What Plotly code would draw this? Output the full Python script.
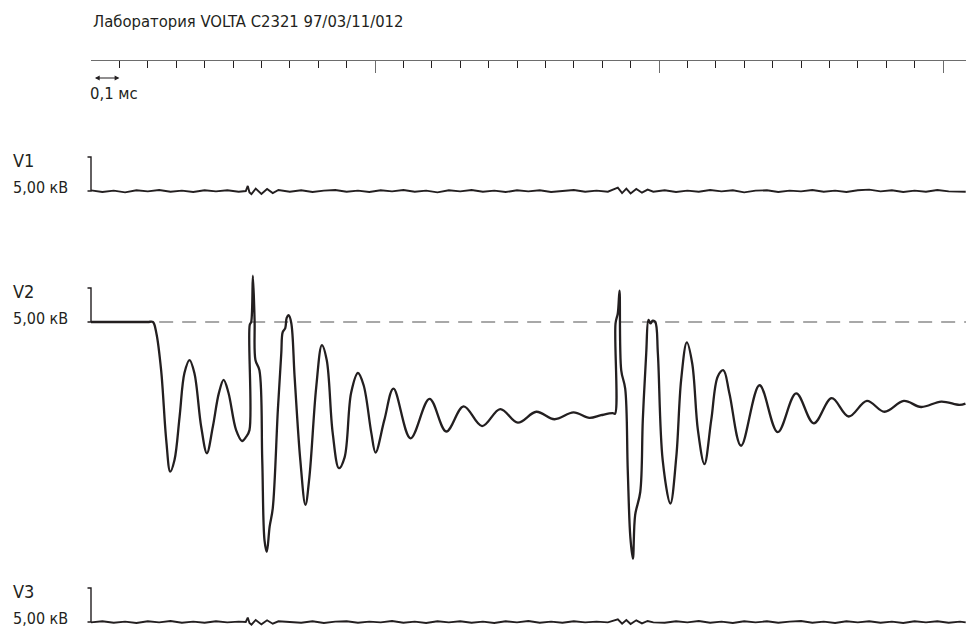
"""Oscillogram of V1/V2/V3 phase voltages (VOLTA C2321 record)."""

import plotly.graph_objects as go

TITLE = "Лаборатория VOLTA C2321 97/03/11/012"
CHANNELS = ["V1", "V2", "V3"]
SCALE_LABEL = "5,00 кВ"
TIME_SCALE_LABEL = "0,1 мс"

# V2 waveform: time, ms / voltage relative to pre-fault level, kV
V2_T = [
    0.000, 0.100, 0.200, 0.218, 0.230, 0.247, 0.265, 0.279, 0.294, 0.312, 0.329, 0.347,
    0.364, 0.388, 0.408, 0.429, 0.450, 0.467, 0.484, 0.511, 0.532, 0.546,
    0.558, 0.559, 0.564, 0.570, 0.576, 0.579, 0.593, 0.603, 0.611, 0.619,
    0.629, 0.640, 0.658, 0.670, 0.675, 0.684, 0.689, 0.696, 0.705, 0.717,
    0.737, 0.755, 0.769, 0.793, 0.813, 0.830, 0.851, 0.873, 0.893, 0.916,
    0.940, 0.960, 0.987, 1.002, 1.033, 1.065, 1.125, 1.192, 1.251, 1.312,
    1.377, 1.441, 1.503, 1.568, 1.632, 1.699, 1.755, 1.796, 1.837, 1.845,
    1.847, 1.855, 1.861, 1.867, 1.881, 1.890, 1.899, 1.908, 1.916, 1.934,
    1.943, 1.955, 1.963, 1.970, 1.978, 1.987, 1.996, 2.013, 2.040, 2.061,
    2.078, 2.098, 2.117, 2.137, 2.160, 2.184, 2.207, 2.227, 2.248, 2.289,
    2.354, 2.418, 2.483, 2.545, 2.608, 2.668, 2.732, 2.794, 2.862, 2.923,
    2.994, 3.058, 3.079,
]
V2_KV = [
    0.0, 0.0, 0.0, 0.0, -1.6, -7.1, -17.4, -22.0, -20.3, -13.9, -7.5, -5.6,
    -7.5, -15.4, -19.3, -15.4, -10.5, -8.5, -10.4, -15.9, -17.5, -16.9,
    -15.9, -0.4, 0.0, 6.8, 0.3, -5.6, -7.1, -20.3, -32.1, -33.8,
    -30.1, -27.4, -12.9, -4.6, -1.5, -0.9, 0.6, 1.0, -0.1, -8.1,
    -20.3, -26.9, -22.8, -9.6, -3.4, -5.6, -16.3, -21.5, -19.9, -10.4,
    -7.5, -9.3, -16.3, -19.2, -14.4, -9.8, -17.1, -11.3, -16.1, -12.4,
    -15.3, -12.8, -14.8, -13.2, -14.3, -13.3, -14.1, -13.7, -13.4, -13.5,
    -0.2, 1.3, 4.6, -7.1, -9.8, -21.8, -31.6, -34.8, -28.4, -25.0,
    -14.4, -4.6, 0.3, -0.2, 0.2, 0.0, -4.6, -20.3, -26.7, -19.8,
    -8.5, -3.0, -6.1, -15.9, -20.9, -14.4, -8.0, -7.1, -10.5, -18.2,
    -9.3, -16.2, -10.5, -14.9, -11.2, -13.9, -11.6, -13.2, -11.6, -12.5,
    -11.7, -12.2, -12.0,
]

# V1 / V3: background noise with two small disturbances, shared time base, ms
NOISE_T = [
    0.00, 0.04, 0.08, 0.12, 0.16, 0.20, 0.24, 0.28, 0.32, 0.36, 0.40, 0.44, 0.48, 0.52,
    0.545, 0.552, 0.558, 0.565, 0.58, 0.60, 0.62, 0.64, 0.66,
    0.70, 0.74, 0.78, 0.82, 0.86, 0.90, 0.94, 0.98, 1.02, 1.06, 1.10, 1.14, 1.18, 1.22,
    1.26, 1.30, 1.34, 1.38, 1.42, 1.46, 1.50, 1.54, 1.58, 1.62, 1.66, 1.70, 1.74, 1.78, 1.82,
    1.855, 1.87, 1.885, 1.90, 1.92, 1.94, 1.96, 1.98,
    2.02, 2.06, 2.10, 2.14, 2.18, 2.22, 2.26, 2.30, 2.34, 2.38, 2.42, 2.46, 2.50, 2.54,
    2.58, 2.62, 2.66, 2.70, 2.74, 2.78, 2.82, 2.86, 2.90, 2.94, 2.98, 3.02, 3.06, 3.08,
]
V1_KV = [
    0.10, -0.15, 0.05, -0.20, 0.10, -0.05, 0.15, -0.10, 0.05, -0.15, 0.10, -0.05, 0.10, -0.10,
    0.00, 0.75, -0.20, -0.45, 0.35, -0.45, 0.30, -0.30, 0.15,
    -0.10, 0.10, -0.15, 0.05, 0.15, -0.10, 0.05, -0.15, 0.10, -0.05, 0.15, -0.10, 0.05, -0.20,
    0.10, -0.05, 0.15, -0.10, 0.05, -0.15, 0.10, -0.05, 0.10, -0.15, 0.05, 0.15, -0.10, 0.05, -0.10,
    0.50, -0.30, 0.35, -0.35, 0.30, -0.25, 0.20, -0.10,
    0.10, -0.15, 0.05, -0.10, 0.15, -0.05, 0.10, -0.20, 0.05, 0.10, -0.15, 0.05, -0.05, 0.15,
    -0.10, 0.05, -0.15, 0.10, 0.20, -0.05, 0.10, -0.15, 0.05, -0.10, 0.15, -0.05, -0.15, -0.10,
]
V3_KV = [
    -0.05, 0.10, -0.10, 0.05, -0.15, 0.10, -0.05, 0.15, -0.10, 0.05, -0.10, 0.10, -0.05, 0.05,
    0.00, 0.65, -0.15, -0.40, 0.30, -0.35, 0.25, -0.25, 0.10,
    0.05, -0.10, 0.10, -0.15, 0.05, 0.10, -0.10, 0.05, -0.05, 0.15, -0.10, 0.05, -0.15, 0.10,
    -0.05, 0.10, -0.10, 0.05, -0.15, 0.10, -0.05, 0.15, -0.10, 0.05, -0.10, 0.10, -0.05, 0.05, -0.05,
    0.40, -0.25, 0.30, -0.30, 0.25, -0.20, 0.15, -0.05,
    -0.10, 0.10, -0.05, 0.15, -0.10, 0.05, -0.15, 0.10, -0.05, 0.10, -0.10, 0.05, 0.15, -0.10,
    0.05, -0.15, 0.10, -0.05, 0.10, -0.10, 0.05, -0.15, 0.10, -0.05, 0.10, -0.10, 0.05, -0.05,
]

SCALE_KV = 5.0      # height of the scale bracket
TIME_STEP = 0.1     # ms, minor ruler division
REF_START = 0.24    # ms, where the dashed pre-fault level starts

# layout geometry (pixels)
W, H = 966, 628
LEFT = 91
PX_PER_MS = 284.0
PX_PER_KV = 6.8
RULER_Y = 60
# (top, bottom, zero level) of each channel strip
PANELS = [(150, 232, 191), (268, 572, 322), (578, 628, 622)]

INK = "#231f20"
FONT = "Liberation Sans Narrow, DejaVu Sans Condensed, Arial Narrow, sans-serif"


def frac(py):
    return 1 - py / H


def xfrac(px):
    return (px - LEFT) / (W - LEFT)


x_max = (W - LEFT) / PX_PER_MS

fig = go.Figure()
series = [(NOISE_T, V1_KV, 1.9), (V2_T, V2_KV, 2.3), (NOISE_T, V3_KV, 1.9)]
for i, (t, v, width) in enumerate(series):
    fig.add_trace(
        go.Scatter(
            x=t,
            y=v,
            mode="lines",
            line={"color": INK, "width": width,
                  "shape": "spline" if i == 1 else "linear", "smoothing": 1.0},
            yaxis="y" if i == 0 else f"y{i + 1}",
            hoverinfo="skip",
            showlegend=False,
        )
    )

layout_axes = {}
for i, (top, bottom, zero) in enumerate(PANELS):
    name = "yaxis" if i == 0 else f"yaxis{i + 1}"
    layout_axes[name] = {
        "domain": [frac(bottom), frac(top)],
        "range": [(zero - bottom) / PX_PER_KV, (zero - top) / PX_PER_KV],
        "visible": False,
        "fixedrange": True,
    }

# pre-fault level of V2
fig.add_shape(
    type="line", xref="x", yref="y2", x0=REF_START, x1=x_max, y0=0, y1=0,
    line={"color": "#8c8c8c", "width": 1.6, "dash": "14px,9px"}, layer="below",
)

# scale brackets and channel labels
for name, (top, bottom, zero) in zip(CHANNELS, PANELS):
    y0 = frac(zero)
    y1 = frac(zero - SCALE_KV * PX_PER_KV)
    x_left = xfrac(LEFT - 3.5)
    fig.add_shape(
        type="path", xref="paper", yref="paper",
        path=f"M {x_left} {y1} L 0 {y1} L 0 {y0} L {x_left} {y0}",
        line={"color": INK, "width": 1.4},
    )
    fig.add_annotation(
        x=xfrac(11), y=y1 - 0.005, xref="paper", yref="paper", text=name,
        showarrow=False, xanchor="left", yanchor="middle",
        font={"size": 18, "color": INK, "family": FONT},
    )
    fig.add_annotation(
        x=xfrac(11), y=y0 + 0.006, xref="paper", yref="paper", text=SCALE_LABEL,
        showarrow=False, xanchor="left", yanchor="middle",
        font={"size": 16, "color": INK, "family": FONT},
    )

fig.add_annotation(
    x=0, y=frac(21), xref="paper", yref="paper", text=TITLE,
    showarrow=False, xanchor="left", yanchor="middle",
    font={"size": 16.5, "color": INK, "family": FONT},
)

# 0.1 ms arrow under the ruler
fig.add_annotation(
    x=TIME_STEP, y=frac(78), xref="x", yref="paper", text="",
    showarrow=True, axref="pixel", ayref="pixel", ax=-26, ay=0,
    arrowhead=2, arrowside="end+start", arrowsize=0.8, arrowwidth=1.2,
    arrowcolor=INK, standoff=0, startstandoff=0,
)
fig.add_annotation(
    x=xfrac(LEFT - 3), y=frac(93), xref="paper", yref="paper", text=TIME_SCALE_LABEL,
    showarrow=False, xanchor="left", yanchor="middle",
    font={"size": 16.5, "color": INK, "family": FONT},
)

fig.update_layout(
    width=W,
    height=H,
    margin={"l": LEFT, "r": 0, "t": 0, "b": 0},
    paper_bgcolor="white",
    plot_bgcolor="white",
    xaxis={
        "range": [0, x_max],
        "side": "top",
        "anchor": "free",
        "position": frac(RULER_Y),
        "showline": True,
        "linecolor": "#6d6d6d",
        "linewidth": 1.2,
        "ticks": "inside",
        "ticklen": 12,
        "tickwidth": 1.2,
        "tickcolor": "#6d6d6d",
        "tick0": 0,
        "dtick": 1,
        "minor": {"ticks": "inside", "ticklen": 7, "dtick": TIME_STEP,
                  "tickcolor": INK, "tickwidth": 1},
        "showticklabels": False,
        "showgrid": False,
        "zeroline": False,
        "fixedrange": True,
    },
    **layout_axes,
)

# the page's default body margin would shift the fixed-size figure
fig.write_html(
    "out.html",
    config={"displayModeBar": False},
    post_script="document.body.style.margin = '0'; document.body.style.overflow = 'hidden';",
)
